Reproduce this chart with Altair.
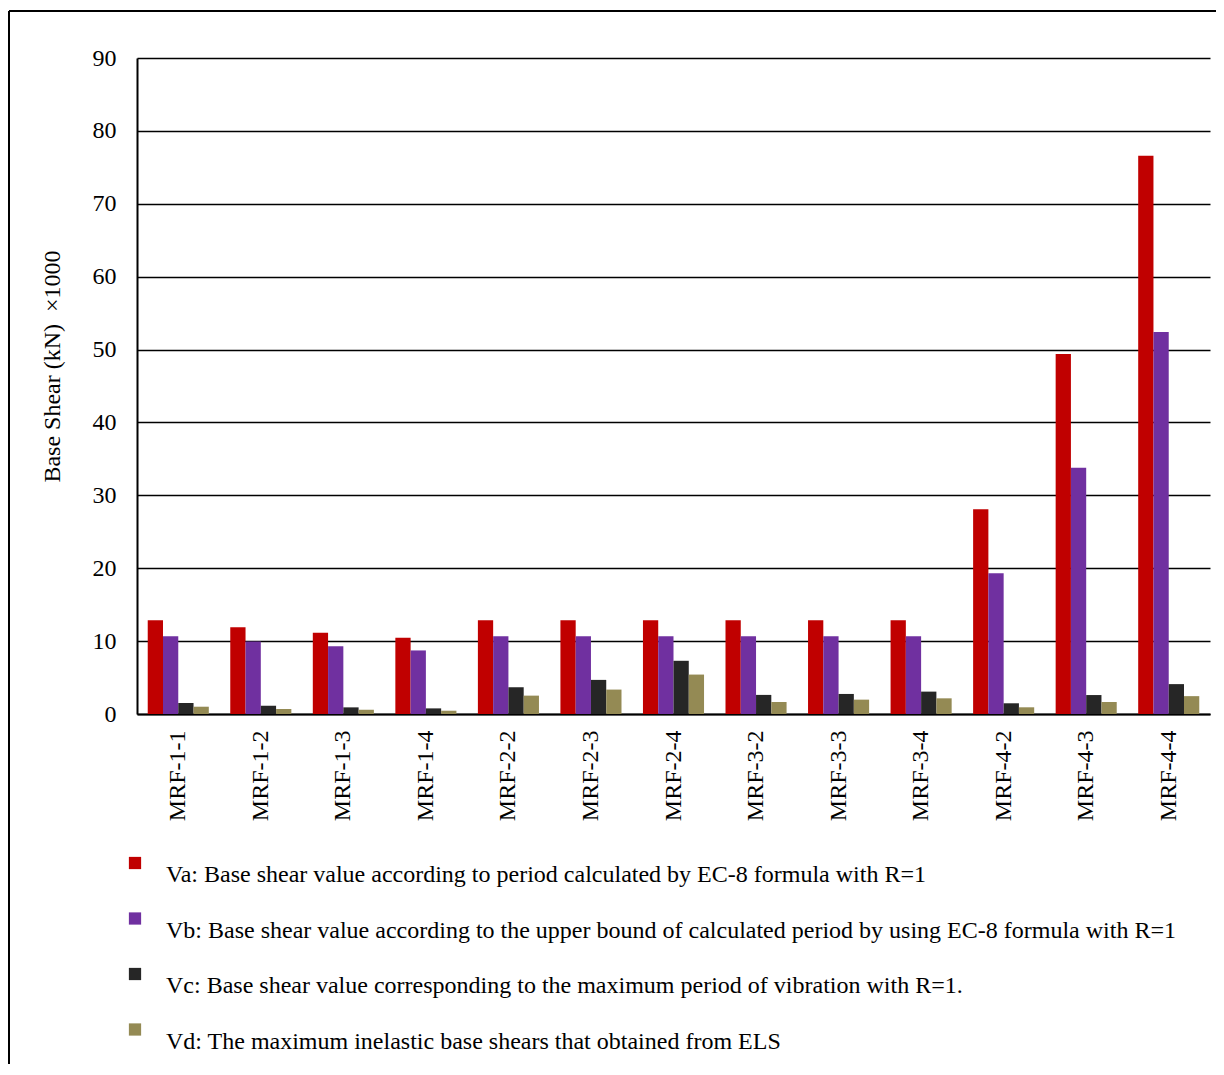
import altair as alt
import pandas as pd

models = ["MRF-1-1", "MRF-1-2", "MRF-1-3", "MRF-1-4", "MRF-2-2", "MRF-2-3", "MRF-2-4",
          "MRF-3-2", "MRF-3-3", "MRF-3-4", "MRF-4-2", "MRF-4-3", "MRF-4-4"]
va = [12.85, 11.9, 11.15, 10.45, 12.85, 12.85, 12.85, 12.85, 12.85, 12.85, 28.1, 49.4, 76.6]
vb = [10.65, 9.95, 9.3, 8.72, 10.65, 10.65, 10.65, 10.65, 10.65, 10.65, 19.3, 33.8, 52.4]
vc = [1.51, 1.14, 0.91, 0.77, 3.67, 4.68, 7.3, 2.62, 2.75, 3.07, 1.47, 2.6, 4.1]
vd = [1.0, 0.69, 0.59, 0.45, 2.52, 3.35, 5.41, 1.65, 1.97, 2.15, 0.92, 1.65, 2.45]

series_names = [
    "Va: Base shear value according to period calculated by EC-8 formula with R=1",
    "Vb: Base shear value according to the upper bound of calculated period by using EC-8 formula with R=1",
    "Vc: Base shear value corresponding to the maximum period of vibration with R=1.",
    "Vd: The maximum inelastic base shears that obtained from ELS",
]
colors = ["#C00000", "#7030A0", "#262626", "#948A54"]
y_ticks = [0, 10, 20, 30, 40, 50, 60, 70, 80, 90]
y_title = "Base Shear (kN)\u00a0\u00a0\u00d71000"

rows = []
for name, vals in zip(series_names, [va, vb, vc, vd]):
    for m, v in zip(models, vals):
        rows.append({"model": m, "series": name, "value": v})
df = pd.DataFrame(rows)

FONT = "Liberation Serif"

bars = alt.Chart(df).mark_bar().encode(
    x=alt.X("model:N", sort=models,
            scale=alt.Scale(paddingInner=0.26, paddingOuter=0.13),
            axis=alt.Axis(title=None, labelAngle=270, labelAlign="right", labelBaseline="middle",
                          ticks=False, labelPadding=16, labelFont=FONT, labelFontSize=24,
                          labelColor="black", domainColor="black", domainWidth=2, grid=False)),
    xOffset=alt.XOffset("series:N", sort=series_names),
    y=alt.Y("value:Q", scale=alt.Scale(domain=[0, 90], nice=False),
            axis=alt.Axis(title=y_title, values=y_ticks, ticks=False,
                          labelPadding=21, labelFont=FONT, labelFontSize=24, labelColor="black",
                          domainColor="black", domainWidth=2, gridColor="black", gridWidth=1.6,
                          gridOpacity=1, titleFont=FONT, titleFontSize=24, titleFontWeight="normal",
                          titleColor="black", titleAngle=270, titleAlign="center",
                          titleBaseline="middle", titleX=-85, titleY=308)),
    color=alt.Color("series:N", sort=series_names,
                    scale=alt.Scale(domain=series_names, range=colors),
                    legend=alt.Legend(title=None, orient="none", legendX=-14, legendY=793,
                                      direction="vertical", symbolType="square", symbolSize=150,
                                      symbolStrokeWidth=0, labelFont=FONT, labelFontSize=24,
                                      labelColor="black", labelLimit=0, labelOffset=19,
                                      labelBaseline="top", rowPadding=19.5)),
)

frame_top = alt.Chart(df).mark_rule(color="black", strokeWidth=1).encode(
    x=alt.value(-128), x2=alt.value(1080), y=alt.value(-47))
frame_left = alt.Chart(df).mark_rule(color="black", strokeWidth=1).encode(
    x=alt.value(-128), y=alt.value(-47), y2=alt.value(1010))

chart = alt.layer(bars, frame_top, frame_left).properties(
    width=1073, height=656,
    autosize=alt.AutoSizeParams(type="none"),
    padding={"left": 129, "top": 50, "right": 6, "bottom": 350},
    background="white",
).configure_view(strokeWidth=0)

chart.save("out.html", embed_options={"renderer": "svg", "actions": False})
